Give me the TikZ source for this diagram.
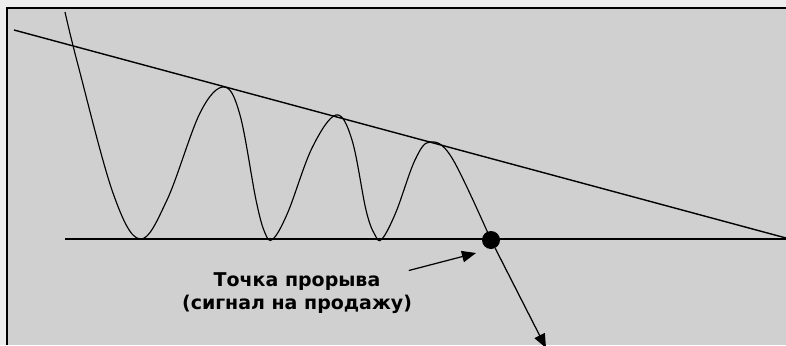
\documentclass[tikz,border=0pt]{standalone}
\usepackage{fontspec}
\setmainfont{DejaVu Sans}
\usetikzlibrary{arrows.meta, positioning}
\definecolor{outerbg}{HTML}{EDEDED}
\definecolor{panelbg}{HTML}{D0D0D0}

\begin{document}
\begin{tikzpicture}[x=0.02cm, y=-0.02cm,
  wave/.style={line width=0.65pt},
  guide/.style={line width=0.8pt},
  pointer/.style={line width=0.7pt, -{Triangle[length=8pt, width=6.5pt]}}]
\useasboundingbox (0,0) rectangle (786,345);
% background and frame
\fill[outerbg] (0,0) rectangle (786,345);
\fill[panelbg] (7,8) rectangle (786,345);
\draw[line width=1.1pt] (7,345) -- (7,8) -- (786,8);
% resistance and support
\coordinate (tl) at (14,30);
\coordinate (tr) at (786,238);
\coordinate (sl) at (65,239);
\coordinate (sr) at (786,239);
\draw[guide] (tl) -- (tr);
\draw[guide] (sl) -- (sr);
% price curve
\draw[wave] plot[smooth, tension=0.6] coordinates {
  (65,12) (78,65) (113,193) (140,239)
  (167,200) (200,113) (224,87) (240,115) (256,200) (265,233) (273,239)
  (288,212) (312,148) (336,115) (352,140) (366,210) (375,235) (382,239)
  (396,212) (415,160) (430,142) (452,158) (491,240)};
% breakout point
\node[circle, fill=black, minimum size=0.36cm, inner sep=0pt] (brk) at (491,240) {};
\coordinate (tgt) at (546,348);
\draw[pointer] (brk) -- (tgt);
% label
\node[align=center, font=\bfseries\fontsize{10.8}{13}\selectfont, inner sep=1pt] (lbl) at (297,293)
  {Точка прорыва\\(сигнал на продажу)};
\coordinate (ptr) at (476,253);
\draw[pointer] ([xshift=-3pt]lbl.north east) -- (ptr);
\end{tikzpicture}
\end{document}
